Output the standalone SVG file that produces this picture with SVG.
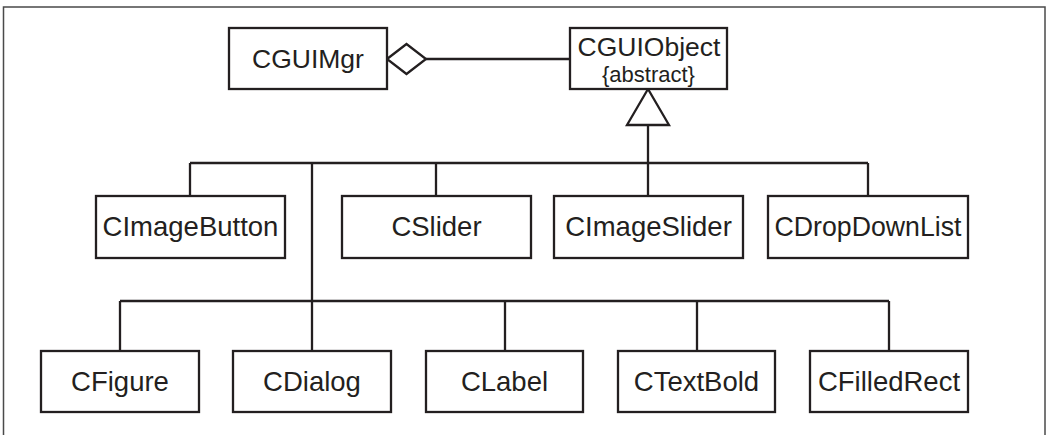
<svg xmlns="http://www.w3.org/2000/svg" width="1048" height="435" viewBox="0 0 1048 435">
<style>
.box{fill:#fff;stroke:#231f20;stroke-width:2.3}
.lbl{font-family:"Liberation Sans",Arial,Helvetica,sans-serif;font-size:27.5px;fill:#231f20;text-anchor:middle}
.top{font-size:26.5px}
.sub{font-family:"Liberation Sans",Arial,Helvetica,sans-serif;font-size:22px;fill:#231f20;text-anchor:middle}
.ln{fill:none;stroke:#231f20;stroke-width:2.3}
</style>
<rect x="0" y="0" width="1048" height="435" fill="#fff"/>
<rect x="3.5" y="7" width="1041.5" height="440" fill="none" stroke="#4a4a4a" stroke-width="1.5"/>
<g id="connectors">
<polyline class="ln" points="426,59 570,59"/>
<polygon class="ln" fill="#fff" points="387,59 406.5,44 426,59 406.5,74"/>
<polygon class="ln" fill="#fff" points="648,89 627,125 669,125"/>
<line class="ln" x1="648" y1="125" x2="648" y2="196"/>
<line class="ln" x1="190" y1="163" x2="868" y2="163"/>
<line class="ln" x1="190" y1="163" x2="190" y2="196"/>
<line class="ln" x1="312" y1="163" x2="312" y2="351"/>
<line class="ln" x1="436" y1="163" x2="436" y2="196"/>
<line class="ln" x1="868" y1="163" x2="868" y2="196"/>
<line class="ln" x1="120" y1="301" x2="889" y2="301"/>
<line class="ln" x1="120" y1="301" x2="120" y2="351"/>
<line class="ln" x1="505" y1="301" x2="505" y2="351"/>
<line class="ln" x1="697" y1="301" x2="697" y2="351"/>
<line class="ln" x1="889" y1="301" x2="889" y2="351"/>
</g>
<g id="CGUIMgr"><rect class="box" x="229" y="28" width="158" height="61"/><text class="lbl top" x="308" y="68">CGUIMgr</text></g>
<g id="CGUIObject"><rect class="box" x="570" y="28" width="157" height="61"/><text class="lbl top" x="649" y="56">CGUIObject</text><text class="sub" x="648.5" y="82">{abstract}</text></g>
<g id="CImageButton"><rect class="box" x="96" y="196" width="189" height="62"/><text class="lbl" x="190.5" y="236">CImageButton</text></g>
<g id="CSlider"><rect class="box" x="342" y="196" width="189" height="62"/><text class="lbl" x="436.5" y="236">CSlider</text></g>
<g id="CImageSlider"><rect class="box" x="554" y="196" width="189" height="62"/><text class="lbl" x="648.5" y="236">CImageSlider</text></g>
<g id="CDropDownList"><rect class="box" x="768" y="196" width="200" height="62"/><text class="lbl" x="868" y="236" textLength="187" lengthAdjust="spacingAndGlyphs">CDropDownList</text></g>
<g id="CFigure"><rect class="box" x="41" y="351" width="158" height="61"/><text class="lbl" x="120" y="391">CFigure</text></g>
<g id="CDialog"><rect class="box" x="233" y="351" width="158" height="61"/><text class="lbl" x="312" y="391">CDialog</text></g>
<g id="CLabel"><rect class="box" x="426" y="351" width="157" height="61"/><text class="lbl" x="504.5" y="391">CLabel</text></g>
<g id="CTextBold"><rect class="box" x="618" y="351" width="157" height="61"/><text class="lbl" x="696.5" y="391">CTextBold</text></g>
<g id="CFilledRect"><rect class="box" x="810" y="351" width="158" height="61"/><text class="lbl" x="889" y="391">CFilledRect</text></g>
</svg>
